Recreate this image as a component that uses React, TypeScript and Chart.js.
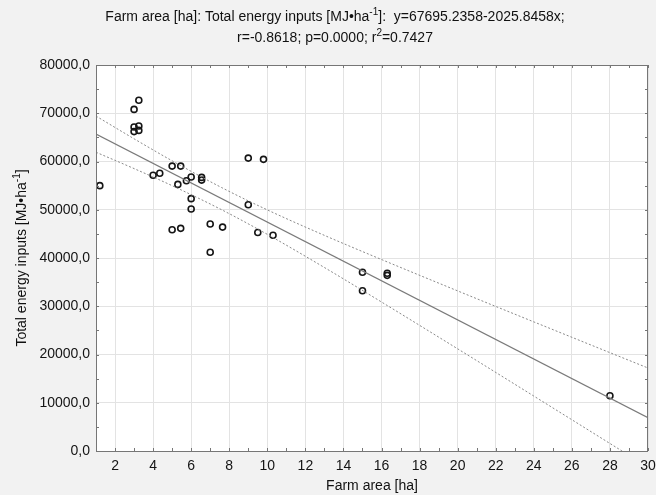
import { useEffect, useRef } from 'react';
import { Chart, registerables } from 'chart.js';

Chart.register(...registerables);

// ---- data ----
const farmArea = [
  1.2, 3.0, 3.25, 3.0, 3.0, 3.25, 3.25, 4.0, 4.35, 5.0, 5.45,
  5.3, 5.75, 6.0, 6.55, 6.55, 6.0, 6.0, 5.0, 5.45, 7.0, 7.65,
  7.0, 9.0, 9.8, 9.0, 9.5, 10.3, 15.0, 15.0, 16.3, 16.3, 28.0,
];
const energyInputs = [
  55000, 70800, 72700, 67150, 66200, 67350, 66450, 57150, 57550, 59050, 59050,
  55250, 56000, 56800, 56700, 56150, 52300, 50150, 45850, 46150, 47050, 46400,
  41200, 60700, 60450, 51050, 45300, 44700, 37050, 33200, 36850, 36400, 11450,
];

// regression line end points (y = 67695.2358 - 2025.8458x)
const fitX = [1, 30];
const fitY = [65669.4, 6919.8];

// 95% confidence band
const bandX = [1, 3, 5, 7.6, 10, 13, 16, 20, 24, 28, 30];
const bandUpper = [69415, 64706, 60144, 54597, 49972, 44690, 39684, 33180, 26761, 20382, 17200];
const bandLower = [61923, 58530, 54988, 50001, 44902, 38028, 30880, 21176, 11389, 1562, -3360];

const xTicks = [2, 4, 6, 8, 10, 12, 14, 16, 18, 20, 22, 24, 26, 28, 30];
const xTickLabels = ['2', '4', '6', '8', '10', '12', '14', '16', '18', '20', '22', '24', '26', '28', '30'];
const yTicks = [0, 10000, 20000, 30000, 40000, 50000, 60000, 70000, 80000];
const yTickLabels = ['0,0', '10000,0', '20000,0', '30000,0', '40000,0', '50000,0', '60000,0', '70000,0', '80000,0'];

const titleLine1 = [
  { t: 'Farm area [ha]: Total energy inputs [MJ•ha', sup: false },
  { t: '-1', sup: true },
  { t: ']:  y=67695.2358-2025.8458x;', sup: false },
];
const titleLine2 = [
  { t: 'r=-0.8618; p=0.0000; r', sup: false },
  { t: '2', sup: true },
  { t: '=0.7427', sup: false },
];
const xTitle = [{ t: 'Farm area [ha]', sup: false }];
const yTitle = [
  { t: 'Total energy inputs [MJ•ha', sup: false },
  { t: '-1', sup: true },
  { t: ']', sup: false },
];

const FONT = "'Liberation Sans', Arial, sans-serif";

type Seg = { t: string; sup: boolean };

function drawRich(ctx: CanvasRenderingContext2D, segs: Seg[], cx: number, cy: number, size: number) {
  const supSize = Math.round(size * 0.7);
  let total = 0;
  for (const s of segs) {
    ctx.font = `${s.sup ? supSize : size}px ${FONT}`;
    total += ctx.measureText(s.t).width;
  }
  let x = cx - total / 2;
  ctx.textBaseline = 'middle';
  ctx.textAlign = 'left';
  for (const s of segs) {
    ctx.font = `${s.sup ? supSize : size}px ${FONT}`;
    ctx.fillText(s.t, x, s.sup ? cy - size * 0.35 : cy);
    x += ctx.measureText(s.t).width;
  }
}

const decorPlugin = {
  id: 'decor',
  beforeDraw(chart: any) {
    const { ctx, chartArea: a, width, height } = chart;
    ctx.save();
    ctx.fillStyle = '#f2f2f2';
    ctx.fillRect(0, 0, width, height);
    ctx.fillStyle = '#ffffff';
    ctx.fillRect(a.left, a.top, a.right - a.left, a.bottom - a.top);
    ctx.restore();
  },
  afterDraw(chart: any) {
    const { ctx, chartArea: a } = chart;
    const xs = chart.scales.x;
    const ys = chart.scales.y;
    ctx.save();
    // frame
    ctx.strokeStyle = '#767676';
    ctx.lineWidth = 1;
    ctx.strokeRect(Math.round(a.left) + 0.5, Math.round(a.top) + 0.5, Math.round(a.right - a.left) - 1, Math.round(a.bottom - a.top));
    // inward tick marks (major + minor)
    ctx.beginPath();
    for (let v = 1; v <= 30; v += 1) {
      const px = Math.round(xs.getPixelForValue(v)) + 0.5;
      ctx.moveTo(px, a.bottom);
      ctx.lineTo(px, a.bottom - 3);
      ctx.moveTo(px, a.top);
      ctx.lineTo(px, a.top + 3);
    }
    for (let v = 0; v <= 80000; v += 5000) {
      const py = Math.round(ys.getPixelForValue(v)) + 0.5;
      ctx.moveTo(a.left, py);
      ctx.lineTo(a.left + 3, py);
      ctx.moveTo(a.right, py);
      ctx.lineTo(a.right - 3, py);
    }
    ctx.stroke();

    // titles
    ctx.fillStyle = '#111111';
    drawRich(ctx, titleLine1, 335, 17, 14);
    drawRich(ctx, titleLine2, 335, 38, 14);
    drawRich(ctx, xTitle, (a.left + a.right) / 2, 486, 14);
    ctx.translate(22, (a.top + a.bottom) / 2);
    ctx.rotate(-Math.PI / 2);
    drawRich(ctx, yTitle, 0, 0, 14);
    ctx.restore();
  },
};

export default function App() {
  const ref = useRef<HTMLCanvasElement | null>(null);

  useEffect(() => {
    if (!ref.current) return;
    const chart = new Chart(ref.current, {
      type: 'scatter',
      data: {
        datasets: [
          {
            data: bandX.map((x, i) => ({ x, y: bandUpper[i] })),
            showLine: true,
            borderColor: '#8a8a8a',
            borderWidth: 1,
            borderDash: [2, 2],
            pointRadius: 0,
            cubicInterpolationMode: 'monotone',
          },
          {
            data: bandX.map((x, i) => ({ x, y: bandLower[i] })),
            showLine: true,
            borderColor: '#8a8a8a',
            borderWidth: 1,
            borderDash: [2, 2],
            pointRadius: 0,
            cubicInterpolationMode: 'monotone',
          },
          {
            data: fitX.map((x, i) => ({ x, y: fitY[i] })),
            showLine: true,
            borderColor: '#7a7a7a',
            borderWidth: 1.2,
            pointRadius: 0,
          },
          {
            data: farmArea.map((x, i) => ({ x, y: energyInputs[i] })),
            pointRadius: 3,
            pointBorderWidth: 1.6,
            borderColor: '#151515',
            backgroundColor: 'rgba(0,0,0,0)',
            pointBackgroundColor: 'rgba(0,0,0,0)',
            pointBorderColor: '#151515',
          },
        ] as any,
      },
      options: {
        animation: false,
        responsive: false,
        events: [],
        layout: { padding: { top: 65, right: 0, left: 0, bottom: 0 } },
        plugins: {
          legend: { display: false },
          tooltip: { enabled: false },
          title: { display: false },
        },
        scales: {
          x: {
            type: 'linear',
            min: 1,
            max: 30,
            afterBuildTicks: (s: any) => {
              s.ticks = xTicks.map((v) => ({ value: v }));
            },
            afterFit: (s: any) => {
              s.height = 44;
              s.paddingRight = 8;
            },
            grid: { color: '#e3e3e3', drawTicks: false },
            border: { display: false },
            ticks: {
              padding: 7,
              autoSkip: false,
              maxRotation: 0,
              color: '#141414',
              font: { family: FONT, size: 14 },
              callback: (_v: any, i: number) => xTickLabels[i],
            },
          },
          y: {
            type: 'linear',
            min: 0,
            max: 80000,
            afterBuildTicks: (s: any) => {
              s.ticks = yTicks.map((v) => ({ value: v }));
            },
            afterFit: (s: any) => {
              s.width = 96;
            },
            grid: { color: '#e3e3e3', drawTicks: false },
            border: { display: false },
            ticks: {
              padding: 6,
              autoSkip: false,
              color: '#141414',
              font: { family: FONT, size: 14 },
              callback: (_v: any, i: number) => yTickLabels[i],
            },
          },
        },
      } as any,
      plugins: [decorPlugin],
    });
    return () => chart.destroy();
  }, []);

  return (
    <div style={{ position: 'fixed', left: 0, top: 0, width: 656, height: 495 }}>
      <canvas ref={ref} width={656} height={495} style={{ display: 'block' }} />
    </div>
  );
}
